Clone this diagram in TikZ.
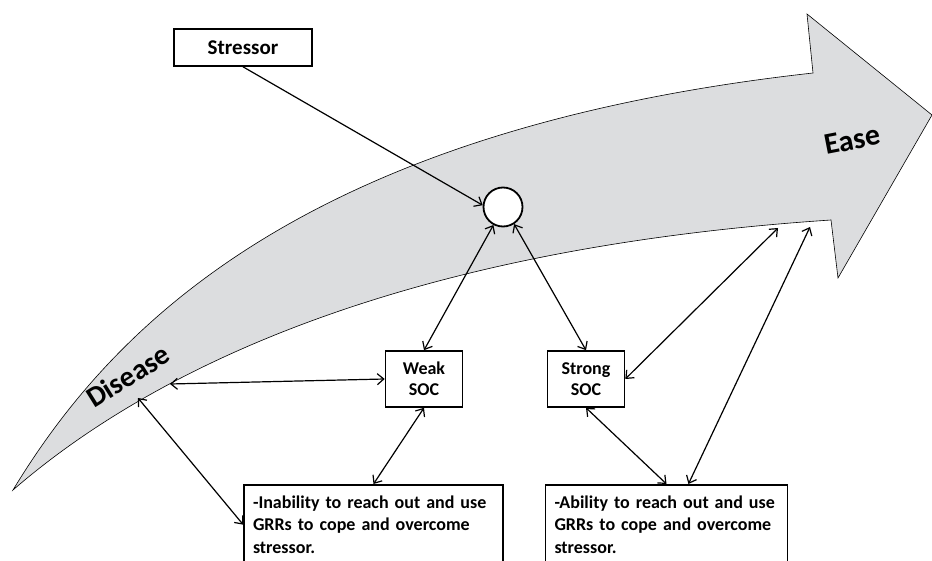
\documentclass[tikz,border=0pt]{standalone}
\usepackage{fontspec}
\setmainfont{Carlito}
\usetikzlibrary{arrows.meta,calc}
\definecolor{bandgray}{RGB}{220,221,223}

\begin{document}
\begin{tikzpicture}[x=1pt,y=1pt]
	\tikzstyle{every node}+=[font=\bfseries]
	\tikzstyle{socbox}=[draw=black, line width=1.6pt, fill=white, align=center, inner sep=0pt, minimum width=77pt, minimum height=56pt, font=\bfseries\fontsize{18}{21}\selectfont]
	\tikzstyle{grrbox}=[draw=black, line width=1.6pt, fill=white, align=left, anchor=north, inner xsep=9pt, inner ysep=11pt, font=\bfseries\fontsize{18}{22.5}\selectfont]
	\tikzstyle{link}=[black, line width=1.2pt, {Straight Barb[length=6.5pt,width=11pt]}-{Straight Barb[length=6.5pt,width=11pt]}]
	\useasboundingbox (0,0) rectangle (932,560);
	\clip (0,0) rectangle (932,560);
	\draw [black, line width=0.6pt, fill=bandgray] (13,70) .. controls (110,230) and (300,430) .. (813,487) -- (807,546) -- (932,445) -- (838,282) -- (831,340) .. controls (380,310) and (140,180) .. (13,70) -- cycle;
	\node [rotate=32, font=\bfseries\fontsize{29}{34}\selectfont] (disease) at (128,184) {Disease};
	\node [rotate=11, font=\bfseries\fontsize{30}{35}\selectfont] (ease) at (852,420) {Ease};
	\coordinate (disA) at (170,176);
	\coordinate (disB) at (138,162);
	\coordinate (easeA) at (778,332);
	\coordinate (easeB) at (810,333);
	\node [draw=black, line width=1.6pt, fill=white, minimum width=138pt, minimum height=37pt, font=\bfseries\fontsize{21}{25}\selectfont] (stressor) at (243,512.5) {Stressor};
	\node [circle, draw=black, line width=1.8pt, fill=white, minimum size=39pt] (junction) at (503,353) {};
	\node [socbox] (weak) at (424,181) {Weak\\SOC};
	\node [socbox] (strong) at (586,181) {Strong\\SOC};
	\node [grrbox, text width=241pt] (inab) at (373.5,76) {-Inability to reach out and use\\GRRs to cope and overcome\\stressor.};
	\node [grrbox, text width=224pt] (abl) at (666.5,76) {-Ability to reach out and use\\GRRs to cope and overcome\\stressor.};
	\coordinate (ablR) at ($(abl.north west)!0.59!(abl.north east)$);
	\draw [black, line width=1.2pt, -{Straight Barb[length=6.5pt,width=11pt]}] (stressor.south) -- (junction.175);
	\draw [link] (junction.242) -- (weak.north);
	\draw [link] (junction.303) -- (strong.north);
	\draw [link] (disA) -- (weak.west);
	\draw [link] (disB) -- (inab.west);
	\draw [link] (weak.south) -- (inab.north);
	\draw [link] (strong.east) -- (easeA);
	\draw [link] (strong.south) -- (abl.north);
	\draw [link] (ablR) -- (easeB);
\end{tikzpicture}
\end{document}
